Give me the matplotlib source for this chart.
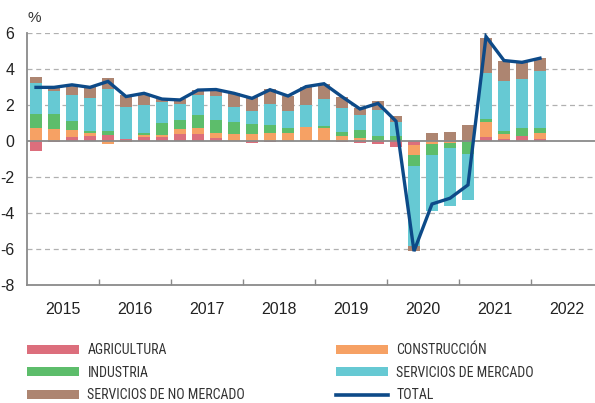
import matplotlib
matplotlib.use("Agg")
import matplotlib.pyplot as plt
import numpy as np
from matplotlib import font_manager
from matplotlib.patches import Patch
from matplotlib.lines import Line2D

# ---------------- data ----------------
years = ["2015", "2016", "2017", "2018", "2019", "2020", "2021", "2022"]
agricultura = [-0.55, -0.05, 0.24, 0.30, 0.35, 0.13, 0.20, 0.20, 0.37, 0.41, 0.19, 0.00,
               -0.09, -0.05, 0.00, 0.00, 0.00, -0.05, -0.10, -0.15, -0.31, -0.22, 0.00, -0.04,
               -0.02, 0.24, 0.13, 0.30, 0.13]
construccion = [0.70, 0.65, 0.37, 0.17, -0.17, -0.03, 0.13, 0.13, 0.30, 0.30, 0.24, 0.37,
                0.39, 0.43, 0.46, 0.76, 0.74, 0.30, 0.15, 0.04, 0.00, -0.56, -0.14, -0.05,
                0.00, 0.83, 0.26, 0.00, 0.30]
industria = [0.81, 0.87, 0.52, 0.11, 0.22, -0.05, 0.09, 0.65, 0.50, 0.74, 0.74, 0.70,
             0.56, 0.46, 0.26, 0.02, 0.11, 0.22, 0.46, 0.26, 0.28, -0.61, -0.63, -0.31,
             -0.68, 0.15, 0.19, 0.41, 0.30]
serv_mercado = [1.69, 1.28, 1.43, 1.83, 2.30, 1.74, 1.57, 1.20, 0.89, 1.09, 1.35, 0.83,
                0.72, 1.19, 0.96, 1.20, 1.46, 1.30, 0.83, 1.43, 0.78, -4.44, -3.13, -3.22,
                -2.59, 2.54, 2.78, 2.74, 3.15]
serv_no_mercado = [0.33, 0.26, 0.50, 0.57, 0.61, 0.69, 0.61, 0.15, 0.26, 0.30, 0.31, 0.74,
                   0.80, 0.80, 0.83, 1.04, 0.85, 0.61, 0.37, 0.52, 0.31, -0.26, 0.44, 0.48,
                   0.88, 1.98, 1.09, 0.93, 0.74]
total = [2.98, 2.98, 3.12, 2.98, 3.31, 2.47, 2.65, 2.33, 2.28, 2.83, 2.86, 2.65,
         2.37, 2.85, 2.50, 3.02, 3.18, 2.46, 1.78, 2.09, 1.10, -6.12, -3.50, -3.18,
         -2.44, 5.80, 4.47, 4.37, 4.60]

labels = ["AGRICULTURA", "CONSTRUCCIÓN", "INDUSTRIA", "SERVICIOS DE MERCADO",
          "SERVICIOS DE NO MERCADO", "TOTAL"]
colors = ["#dc6e7c", "#f6a164", "#5dbd6b", "#66c9d3", "#ad8571", "#0d4a88"]

# ---------------- fonts ----------------
names = {f.name for f in font_manager.fontManager.ttflist}
base_font = "Liberation Sans" if "Liberation Sans" in names else "DejaVu Sans"
narrow_font = base_font
for cand in ["Liberation Sans Narrow", "Roboto Condensed", "Roboto"]:
    if cand in names:
        narrow_font = cand
        break
plt.rcParams["font.family"] = [base_font, "DejaVu Sans"]

W, H = 595, 403
fig = plt.figure(figsize=(W / 100, H / 100), dpi=100)
ax_left, ax_right = 27, 595
ax_top, ax_bot = 33, 285
ax = fig.add_axes([ax_left / W, 1 - ax_bot / H, (ax_right - ax_left) / W, (ax_bot - ax_top) / H])

series = [agricultura, construccion, industria, serv_mercado, serv_no_mercado]
n = len(total)
x = np.arange(n)
pos_base = np.zeros(n)
neg_base = np.zeros(n)
for vals, col in zip(series, colors[:5]):
    v = np.array(vals)
    pos = np.where(v > 0, v, 0)
    neg = np.where(v < 0, v, 0)
    ax.bar(x, pos, bottom=pos_base, width=0.67, color=col, linewidth=0, zorder=3)
    ax.bar(x, neg, bottom=neg_base, width=0.67, color=col, linewidth=0, zorder=3)
    pos_base += pos
    neg_base += neg

ax.plot(x, total, color=colors[5], lw=2.4, zorder=5, solid_joinstyle="miter")

# axes styling
ax.set_ylim(-8, 6)
ax.set_xlim(-0.5, -0.5 + (ax_right - ax_left) / 18.0)
for s in ["top", "right"]:
    ax.spines[s].set_visible(False)
for s in ["left", "bottom"]:
    ax.spines[s].set_color("#8a8a8a")
    ax.spines[s].set_linewidth(1.3)
ax.axhline(0, color="#8a8a8a", lw=1.3, zorder=4)
for yv in [6, 4, 2, -2, -4, -6]:
    ax.axhline(yv, color="#b0b0b0", lw=0.9, ls=(0, (4, 3)), zorder=1)

yt = [6, 4, 2, 0, -2, -4, -6, -8]
ax.set_yticks(yt)
ax.set_yticklabels([str(v) for v in yt])
ax.tick_params(axis="y", length=0, pad=9, labelsize=11.5, labelcolor="#222222")

ax.set_xticks(np.arange(3.5, 31, 4))
ax.set_xticklabels([])
ax.tick_params(axis="x", which="major", direction="in", length=4, color="#8a8a8a", width=1)
ax.set_xticks(np.arange(1.5, 32, 4)[: len(years)], minor=True)
ax.set_xticklabels(years, minor=True)
ax.tick_params(axis="x", which="minor", length=0, pad=12, labelsize=11.5, labelcolor="#222222")

fig.text(27 / W, 1 - 18 / H, "%", fontsize=11, color="#333333", va="center", ha="left")

# legend
fs = 10
h_agri = Patch(color=colors[0], linewidth=0)
h_cons = Patch(color=colors[1], linewidth=0)
h_ind = Patch(color=colors[2], linewidth=0)
h_sm = Patch(color=colors[3], linewidth=0)
h_snm = Patch(color=colors[4], linewidth=0)
h_tot = Line2D([0], [0], color=colors[5], lw=2.6)
common = dict(frameon=False, handlelength=3.75, handleheight=0.6,
              handletextpad=0.6, labelspacing=0.62, borderpad=0, borderaxespad=0,
              loc="upper left", prop={"family": [narrow_font, "DejaVu Sans"], "size": fs})
leg1 = fig.legend([h_agri, h_ind, h_snm], [labels[0], labels[2], labels[4]],
                  bbox_to_anchor=(27 / W, 1 - 343 / H), **common)
leg2 = fig.legend([h_cons, h_sm, h_tot], [labels[1], labels[3], labels[5]],
                  bbox_to_anchor=(336 / W, 1 - 343 / H), **common)
for leg in (leg1, leg2):
    for t in leg.get_texts():
        t.set_color("#333333")

fig.savefig("out.png", dpi=100)
